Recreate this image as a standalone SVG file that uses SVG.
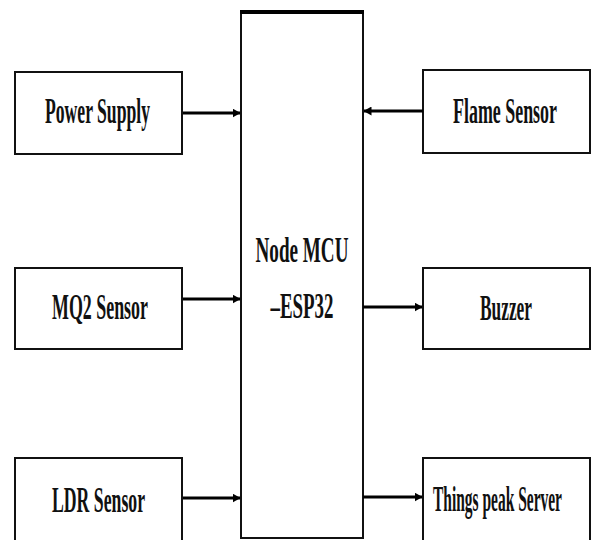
<svg xmlns="http://www.w3.org/2000/svg" width="591" height="540" viewBox="0 0 591 540">
<defs>
<style>
.box{fill:#fff;stroke:#111;stroke-width:2}
.lbl{font-family:"Liberation Serif","Times New Roman",serif;font-weight:bold;font-size:35px;fill:#111;text-anchor:middle}
.conn{stroke:#000;stroke-width:3.2;fill:none}
</style>
<marker id="ah" viewBox="0 0 8 9" refX="7.5" refY="4.5" markerWidth="8" markerHeight="9" markerUnits="userSpaceOnUse" orient="auto">
<path d="M0,0 L8,4.5 L0,9 z" fill="#000"/>
</marker>
</defs>
<rect width="591" height="540" fill="#fff"/>
<g id="mcu">
<path d="M241,12 L241,538 L363,538 L363,12" class="box"/>
<line x1="240" y1="12" x2="364" y2="12" stroke="#000" stroke-width="4"/>
<text class="lbl" x="302" y="262" textLength="93" lengthAdjust="spacingAndGlyphs">Node MCU</text>
<text class="lbl" x="302" y="318" textLength="63" lengthAdjust="spacingAndGlyphs">–ESP32</text>
</g>
<g id="power">
<rect class="box" x="15" y="72" width="167" height="82"/>
<text class="lbl" x="97.5" y="123" textLength="105" lengthAdjust="spacingAndGlyphs">Power Supply</text>
</g>
<g id="mq2">
<rect class="box" x="15" y="268" width="167" height="81"/>
<text class="lbl" x="100" y="319" textLength="96" lengthAdjust="spacingAndGlyphs">MQ2 Sensor</text>
</g>
<g id="ldr">
<rect class="box" x="15" y="458" width="167" height="100"/>
<text class="lbl" x="98.5" y="512" textLength="93" lengthAdjust="spacingAndGlyphs">LDR Sensor</text>
</g>
<g id="flame">
<rect class="box" x="423" y="70" width="167" height="83"/>
<text class="lbl" x="505" y="123" textLength="104" lengthAdjust="spacingAndGlyphs">Flame Sensor</text>
</g>
<g id="buzzer">
<rect class="box" x="423" y="268" width="167" height="81"/>
<text class="lbl" x="506" y="320" textLength="52" lengthAdjust="spacingAndGlyphs">Buzzer</text>
</g>
<g id="thingspeak">
<rect class="box" x="423" y="458" width="167" height="100"/>
<text class="lbl" x="497.5" y="511" textLength="129" lengthAdjust="spacingAndGlyphs">Things peak Server</text>
</g>
<g id="connectors">
<path class="conn" d="M183,113 L240,113" marker-end="url(#ah)"/>
<path class="conn" d="M183,299 L240,299" marker-end="url(#ah)"/>
<path class="conn" d="M183,498 L240,498" marker-end="url(#ah)"/>
<path class="conn" d="M423,111 L364,111" marker-end="url(#ah)"/>
<path class="conn" d="M363,307 L422,307" marker-end="url(#ah)"/>
<path class="conn" d="M363,497 L422,497" marker-end="url(#ah)"/>
</g>
</svg>
